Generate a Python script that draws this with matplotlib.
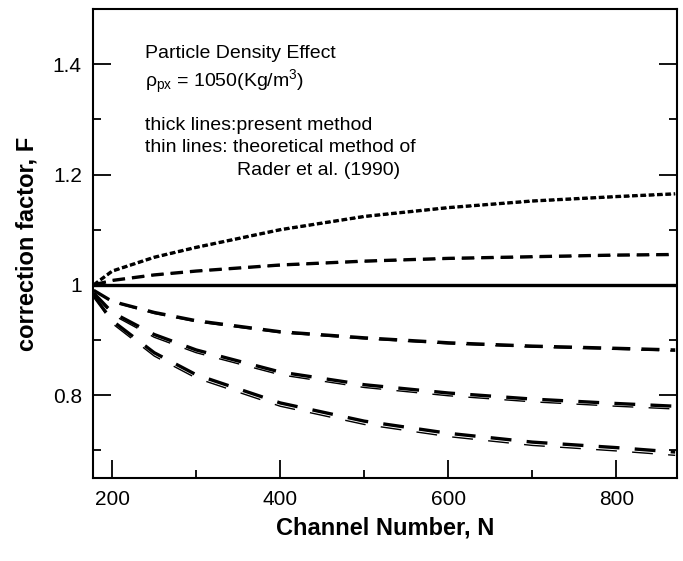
import numpy as np
import matplotlib
matplotlib.use("Agg")
from matplotlib import pyplot as plt
from matplotlib.ticker import MultipleLocator

plt.rcParams['font.family'] = ['Liberation Sans', 'DejaVu Sans']
plt.rcParams['mathtext.fontset'] = 'custom'
plt.rcParams['mathtext.rm'] = 'Liberation Sans'
plt.rcParams['mathtext.it'] = 'Liberation Sans'
plt.rcParams['lines.scale_dashes'] = False

# channel number N
N = [178, 200, 250, 300, 400, 500, 600, 700, 800, 870]

# thick lines: present method
F1 = [1.000, 1.025, 1.050, 1.068, 1.100, 1.124, 1.140, 1.152, 1.160, 1.165]
F2 = [1.000, 1.008, 1.018, 1.025, 1.036, 1.043, 1.048, 1.051, 1.054, 1.055]
F3 = [0.990, 0.970, 0.950, 0.935, 0.915, 0.904, 0.895, 0.889, 0.885, 0.882]
F4 = [0.985, 0.950, 0.910, 0.882, 0.842, 0.819, 0.804, 0.793, 0.785, 0.780]
F5 = [0.980, 0.935, 0.877, 0.837, 0.786, 0.753, 0.731, 0.715, 0.705, 0.697]

# thin lines: theoretical method of Rader et al. (1990)
G1 = [1.000, 1.024, 1.049, 1.067, 1.099, 1.123, 1.139, 1.151, 1.159, 1.164]
G2 = [1.000, 1.008, 1.018, 1.025, 1.035, 1.042, 1.047, 1.050, 1.053, 1.054]
G3 = [0.990, 0.969, 0.948, 0.933, 0.913, 0.902, 0.893, 0.887, 0.883, 0.880]
G4 = [0.985, 0.946, 0.905, 0.877, 0.837, 0.814, 0.799, 0.788, 0.780, 0.775]
G5 = [0.980, 0.930, 0.871, 0.831, 0.780, 0.747, 0.725, 0.709, 0.699, 0.691]

fig = plt.figure(figsize=(6.83, 5.61), dpi=100)
ax = fig.add_axes([0.136, 0.148, 0.855, 0.836])

thick = [F1, F2, F3, F4, F5]
thin = [G1, G2, G3, G4, G5]
dash = [(4, 2), (9, 5), (13, 8), (15, 11), (15, 11)]

for F, G, d in zip(thick, thin, dash):
    ax.plot(N, F, color='black', lw=2.4, dashes=d)
    ax.plot(N, G, color='black', lw=1.0, dashes=d)

ax.axhline(1.0, color='black', lw=2.4)

ax.set_xlim(177, 872)
ax.set_ylim(0.65, 1.5)
ax.xaxis.set_major_locator(MultipleLocator(200))
ax.xaxis.set_minor_locator(MultipleLocator(100))
ax.yaxis.set_minor_locator(MultipleLocator(0.1))
ax.set_yticks([0.8, 1.0, 1.2, 1.4])
ax.set_yticklabels(['0.8', '1', '1.2', '1.4'])
ax.tick_params(which='both', direction='in', right=True, top=False, width=1.3, labelsize=15)
ax.tick_params(which='major', length=13)
ax.tick_params(which='minor', length=6)
ax.tick_params(axis='x', pad=9)
ax.tick_params(axis='y', pad=8)
for s in ax.spines.values():
    s.set_linewidth(1.5)

ax.set_xlabel('Channel Number, N', fontsize=17, fontweight='bold', labelpad=5)
ax.set_ylabel('correction factor, F', fontsize=17, fontweight='bold', labelpad=10)

ax.text(239, 1.412, 'Particle Density Effect', fontsize=14)
ax.text(239, 1.359, r'$\rho_{px}$ = 1050(Kg/m$^3$)', fontsize=14)
ax.text(239, 1.281, 'thick lines:present method', fontsize=14)
ax.text(239, 1.241, 'thin lines: theoretical method of', fontsize=14)
ax.text(348, 1.199, 'Rader et al. (1990)', fontsize=14)

fig.savefig('out.png', dpi=100)
